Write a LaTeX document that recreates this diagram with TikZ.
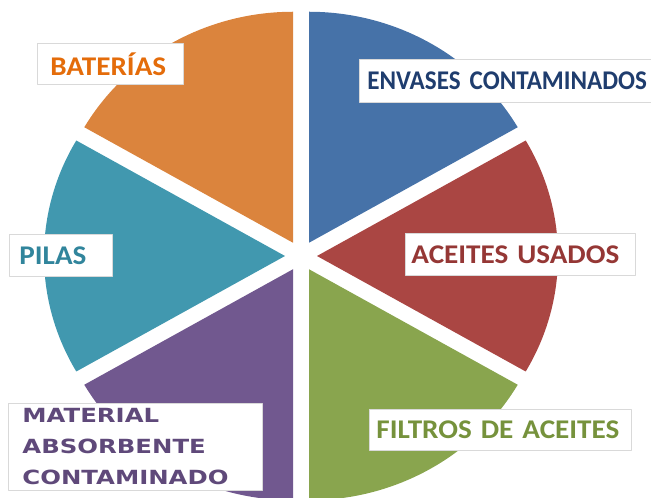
\documentclass[tikz,border=0pt]{standalone}
\usepackage{fontspec}
\setmainfont{Carlito}
\newfontfamily\lblfont[FakeStretch=1.08]{Carlito}
\newfontfamily\narrowfont[FakeStretch=0.93]{Carlito}
\newfontfamily\widefont[FakeStretch=1.25]{DejaVu Sans Bold}
\newcommand\lbltight{\spaceskip=4.5pt\relax}
\newcommand\envtight{\spaceskip=3.5pt\relax}
\usepackage{tikz}
\definecolor{pieblue}{HTML}{4672A8}
\definecolor{piered}{HTML}{AA4643}
\definecolor{piegreen}{HTML}{89A54E}
\definecolor{piepurple}{HTML}{71588F}
\definecolor{pieteal}{HTML}{4198AF}
\definecolor{pieorange}{HTML}{DB843D}
\definecolor{txtorange}{HTML}{E46C0A}
\definecolor{txtblue}{HTML}{1F3D6E}
\definecolor{txtred}{HTML}{953735}
\definecolor{txtteal}{HTML}{31859C}
\definecolor{txtgreen}{HTML}{76923C}
\definecolor{txtpurple}{HTML}{5F497A}

\begin{document}
\begin{tikzpicture}
    [line cap=round,line join=round,x=1pt,y=1pt,
     lbl/.style={fill=white,draw=black!15,line width=0.8pt,anchor=north west,
       inner ysep=0pt,align=left,font={\lblfont\bfseries\fontsize{27}{30}\selectfont\lbltight}}]
%main layer
\useasboundingbox (0,0) rectangle (651,498);
\coordinate (c) at (301,242);

%the six slices, each pulled out from the centre
 \fill[pieblue]   (c) ++(60:16 and 15.3)  -- ++(30:241 and 231)  arc[start angle=30,end angle=90,x radius=241,y radius=231] -- cycle;
 \fill[pieorange] (c) ++(120:16 and 15.3) -- ++(90:241 and 231)  arc[start angle=90,end angle=150,x radius=241,y radius=231] -- cycle;
 \fill[pieteal]   (c) ++(180:16 and 15.3) -- ++(150:241 and 231) arc[start angle=150,end angle=210,x radius=241,y radius=231] -- cycle;
 \fill[piepurple] (c) ++(240:16 and 15.3) -- ++(210:241 and 231) arc[start angle=210,end angle=270,x radius=241,y radius=231] -- cycle;
 \fill[piegreen]  (c) ++(300:16 and 15.3) -- ++(270:241 and 231) arc[start angle=270,end angle=330,x radius=241,y radius=231] -- cycle;
 \fill[piered]    (c) ++(0:16 and 15.3)   -- ++(-30:241 and 231) arc[start angle=-30,end angle=30,x radius=241,y radius=231] -- cycle;

%the labels
  \node[lbl,text=txtorange,minimum width=146,minimum height=41,inner xsep=13,text width=120] (bat) at (37,455) {BATERÍAS};
  \node[lbl,text=txtblue,minimum width=300,minimum height=43,inner xsep=8,text width=284,
        font={\narrowfont\bfseries\fontsize{27}{30}\selectfont\envtight}] (env) at (359,439) {ENVASES CONTAMINADOS};
  \node[lbl,text=txtred,minimum width=230,minimum height=42,inner xsep=6,text width=218] (ace) at (405,265) {ACEITES USADOS};
  \node[lbl,text=txtteal,minimum width=103,minimum height=42,inner xsep=10,text width=83] (pil) at (9,264) {PILAS};
  \node[lbl,text=txtgreen,minimum width=262,minimum height=41,inner xsep=7,text width=248] (fil) at (369,89) {FILTROS DE ACEITES};
  \node[lbl,text=txtpurple,minimum width=254,minimum height=87,inner xsep=14,text width=226,
        font=\widefont\fontsize{19.5}{31}\selectfont] (mat) at (8,95) {MATERIAL\\ABSORBENTE\\CONTAMINADO};
\end{tikzpicture}
\end{document}
